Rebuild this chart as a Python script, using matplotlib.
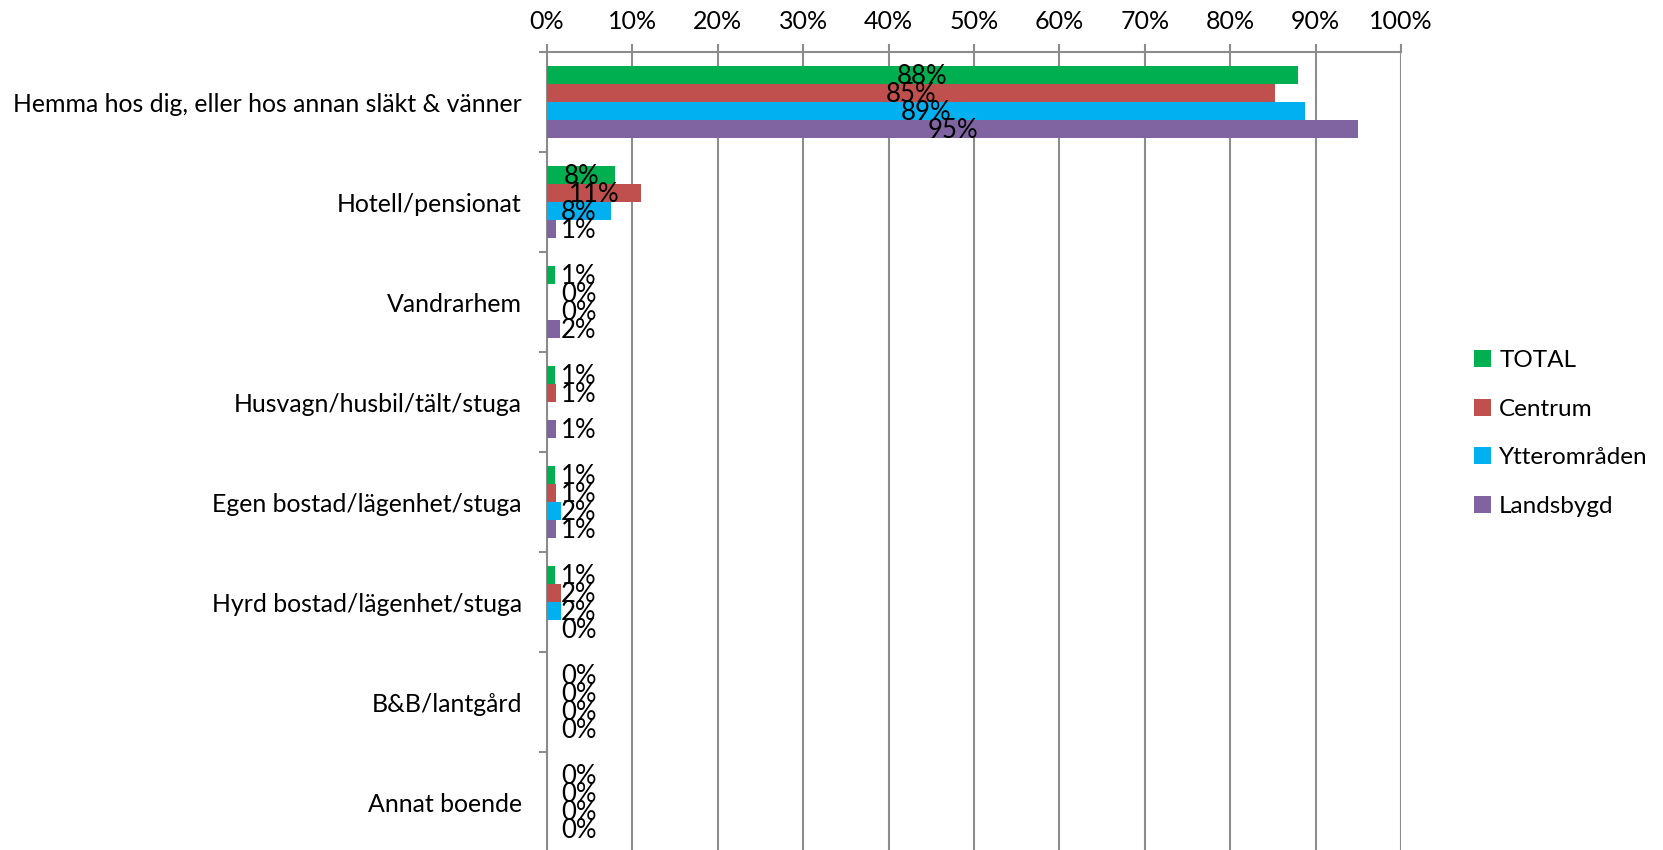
import matplotlib.pyplot as plt
import numpy as np

# Kategorier och serier
categories = ["Hemma hos dig, eller hos annan släkt & vänner", "Hotell/pensionat", "Vandrarhem",
              "Husvagn/husbil/tält/stuga", "Egen bostad/lägenhet/stuga", "Hyrd bostad/lägenhet/stuga",
              "B&B/lantgård", "Annat boende"]
series_names = ["TOTAL", "Centrum", "Ytterområden", "Landsbygd"]

total = [87.9, 8.0, 0.9, 0.9, 0.9, 0.9, 0.0, 0.0]
centrum = [85.2, 11.0, 0.0, 1.0, 1.0, 1.6, 0.0, 0.0]
ytter = [88.8, 7.5, 0.0, np.nan, 1.6, 1.6, 0.0, 0.0]
landsbygd = [95.0, 1.1, 1.5, 1.1, 1.1, 0.0, 0.0, 0.0]

colors = ["#00B050", "#C0504D", "#00B0F0", "#8064A2"]
grid_color = "#8C8C8C"

plt.rcParams['font.family'] = ['Lato', 'DejaVu Sans']

fig = plt.figure(figsize=(16.63, 8.5), dpi=100)
ax = fig.add_axes([0.3289, -0.0024, 0.8425 - 0.3289, 0.9388 + 0.0024])

y = np.arange(len(categories))
bar_h = 0.181
all_series = [total, centrum, ytter, landsbygd]

for i, (vals, name, col) in enumerate(zip(all_series, series_names, colors)):
    pos = y - 1.5 * bar_h + i * bar_h
    ax.barh(pos, vals, height=bar_h, color=col, label=name, zorder=3)
    # Etiketter: centrerade i stapeln, men aldrig nära axeln
    for p, v in zip(pos, vals):
        if np.isnan(v):
            continue
        ax.text(max(v / 2, 3.7), p + 0.015, f"{v:.0f}%", ha='center', va='center',
                fontsize=18.5, color='black', zorder=4)

ax.set_xlim(0, 100)
ax.set_ylim(len(categories) - 0.5, -0.5)

# x-axel överst
ax.xaxis.tick_top()
ax.set_xticks(np.arange(0, 101, 10))
ax.set_xticklabels([f"{t}%" for t in range(0, 101, 10)], fontsize=18)
ax.tick_params(axis='x', length=6, width=1.5, color=grid_color, pad=8)
ax.grid(axis='x', color=grid_color, linewidth=1.5, zorder=0)

# Kategorietiketter, ticks mellan grupperna
ax.set_yticks(y)
ax.set_yticklabels(categories, fontsize=17.9)
ax.set_yticks(np.arange(-0.5, len(categories), 1), minor=True)
ax.tick_params(axis='y', which='major', length=0, pad=18)
ax.tick_params(axis='y', which='minor', length=6, width=1.5, color=grid_color)

for s in ['right', 'bottom']:
    ax.spines[s].set_visible(False)
for s in ['top', 'left']:
    ax.spines[s].set_color(grid_color)
    ax.spines[s].set_linewidth(1.5)

fig.legend(loc='center left', bbox_to_anchor=(0.873, 0.49), frameon=False, fontsize=17.5,
           handlelength=0.7, handleheight=0.7, handletextpad=0.35, labelspacing=1.15)

fig.savefig("out.png", dpi=100)
